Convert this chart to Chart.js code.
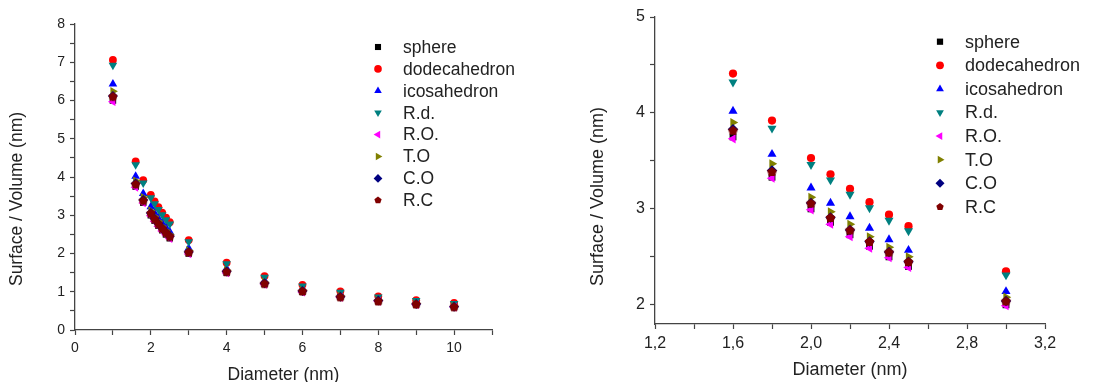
<!DOCTYPE html>
<html><head><meta charset="utf-8">
<script src="https://cdn.jsdelivr.net/npm/chart.js@4/dist/chart.umd.min.js"></script>
<style>
html,body{margin:0;padding:0;background:#fff;}
#wrap{position:relative;width:1118px;height:382px;overflow:hidden;}
#c1{position:absolute;left:0;top:0;}
#c2{position:absolute;left:560px;top:0;}
</style></head><body>
<div id="wrap"><canvas id="c1" width="540" height="382"></canvas><canvas id="c2" width="558" height="382"></canvas></div>
<script>
const diameters = [1, 1.6, 1.8, 2.0, 2.1, 2.2, 2.3, 2.4, 2.5, 3, 4, 5, 6, 7, 8, 9, 10];
const sphere       = [6.00, 3.75, 3.33, 3.00, 2.86, 2.73, 2.61, 2.50, 2.40, 2.00, 1.50, 1.20, 1.00, 0.86, 0.75, 0.67, 0.60];
const dodecahedron = [7.06, 4.41, 3.92, 3.53, 3.36, 3.21, 3.07, 2.94, 2.82, 2.35, 1.76, 1.41, 1.18, 1.01, 0.88, 0.78, 0.71];
const icosahedron  = [6.43, 4.02, 3.57, 3.22, 3.06, 2.92, 2.80, 2.68, 2.57, 2.14, 1.61, 1.29, 1.07, 0.92, 0.80, 0.71, 0.64];
const rd           = [6.92, 4.32, 3.84, 3.46, 3.30, 3.15, 3.01, 2.88, 2.77, 2.31, 1.73, 1.38, 1.15, 0.99, 0.86, 0.77, 0.69];
const ro           = [5.97, 3.73, 3.32, 2.99, 2.84, 2.71, 2.59, 2.49, 2.39, 1.99, 1.49, 1.19, 0.99, 0.85, 0.75, 0.66, 0.60];
const to           = [6.24, 3.90, 3.47, 3.12, 2.97, 2.84, 2.71, 2.60, 2.50, 2.08, 1.56, 1.25, 1.04, 0.89, 0.78, 0.69, 0.62];
const co           = [6.12, 3.83, 3.40, 3.06, 2.91, 2.78, 2.66, 2.55, 2.45, 2.04, 1.53, 1.22, 1.02, 0.87, 0.77, 0.68, 0.61];
const rc           = [6.11, 3.82, 3.39, 3.06, 2.91, 2.78, 2.66, 2.55, 2.45, 2.04, 1.53, 1.22, 1.02, 0.87, 0.76, 0.68, 0.61];
const seriesLabels = ['sphere', 'dodecahedron', 'icosahedron', 'R.d.', 'R.O.', 'T.O', 'C.O', 'R.C'];
const seriesValues = [sphere, dodecahedron, icosahedron, rd, ro, to, co, rc];
const seriesColors = ['#000000', '#ff0000', '#0000ff', '#008080', '#ff00ff', '#808000', '#000080', '#800000'];
const xTitle = 'Diameter (nm)';
const yTitle = 'Surface / Volume (nm)';

Chart.defaults.font.family = '"Liberation Sans", Arial, sans-serif';
Chart.defaults.color = '#222';

function pentagon(r, color) {
  const s = Math.ceil(r * 2 + 2);
  const c = document.createElement('canvas');
  c.width = s; c.height = s;
  const g = c.getContext('2d');
  g.fillStyle = color;
  g.beginPath();
  for (let i = 0; i < 5; i++) {
    const a = -Math.PI / 2 + i * 2 * Math.PI / 5;
    const x = s / 2 + r * Math.cos(a), y = s / 2 + r * Math.sin(a) + 0.5;
    if (i) g.lineTo(x, y); else g.moveTo(x, y);
  }
  g.closePath(); g.fill();
  return c;
}

// marker style per series: [pointStyle, rotation, radius]
function markerStyles(scale) {
  return [
    ['rect', 0, 4.6 * scale],
    ['circle', 0, 3.9 * scale],
    ['triangle', 0, 5.0 * scale],
    ['triangle', 180, 5.0 * scale],
    ['triangle', 270, 5.0 * scale],
    ['triangle', 90, 5.0 * scale],
    ['rectRot', 0, 5.0 * scale],
    [pentagon(4.8 * scale, seriesColors[7]), 0, 4.8 * scale]
  ];
}

function buildDatasets(scale) {
  const ms = markerStyles(scale);
  return seriesLabels.map((lab, i) => ({
    label: lab,
    data: diameters.map((d, k) => ({x: d, y: seriesValues[i][k]})),
    pointStyle: ms[i][0],
    rotation: ms[i][1],
    pointRadius: ms[i][2],
    pointHoverRadius: ms[i][2],
    backgroundColor: seriesColors[i],
    borderColor: seriesColors[i],
    borderWidth: 0,
    showLine: false,
    order: seriesLabels.length - i
  }));
}

const legendPlugin = {
  id: 'inLegend',
  afterDraw(chart, args, o) {
    const ctx = chart.ctx;
    ctx.save();
    ctx.font = o.fontSize + 'px "Liberation Sans", Arial, sans-serif';
    ctx.textBaseline = 'middle';
    ctx.textAlign = 'left';
    chart.data.datasets.forEach((ds, i) => {
      const y = o.y + i * o.spacing;
      const x = o.x;
      const r = o.r;
      ctx.fillStyle = ds.backgroundColor;
      ctx.beginPath();
      if (i === 0) { ctx.rect(x - r * 0.8, y - r * 0.8, r * 1.6, r * 1.6); }
      else if (i === 1) { ctx.arc(x, y, r, 0, Math.PI * 2); }
      else if (i >= 2 && i <= 5) {
        const rot = [0, 180, 270, 90][i - 2] * Math.PI / 180;
        for (let k = 0; k < 3; k++) {
          const a = rot + k * 2 * Math.PI / 3;
          const px = x + Math.sin(a) * r * 1.15, py = y - Math.cos(a) * r * 1.15;
          if (k) ctx.lineTo(px, py); else ctx.moveTo(px, py);
        }
      } else if (i === 6) {
        const d = r * 1.15;
        ctx.moveTo(x, y - d); ctx.lineTo(x + d, y); ctx.lineTo(x, y + d); ctx.lineTo(x - d, y);
      } else {
        for (let k = 0; k < 5; k++) {
          const a = -Math.PI / 2 + k * 2 * Math.PI / 5;
          const px = x + r * Math.cos(a), py = y + r * Math.sin(a);
          if (k) ctx.lineTo(px, py); else ctx.moveTo(px, py);
        }
      }
      ctx.closePath();
      ctx.fill();
      ctx.fillStyle = '#222';
      ctx.fillText(ds.label, o.textX, y + 1);
    });
    ctx.restore();
  }
};

const titlePlugin = {
  id: 'axisTitles',
  afterDraw(chart, args, o) {
    const ctx = chart.ctx;
    const ca = chart.chartArea;
    ctx.save();
    ctx.fillStyle = '#222';
    ctx.font = o.fontSize + 'px "Liberation Sans", Arial, sans-serif';
    ctx.textAlign = 'center';
    ctx.textBaseline = 'middle';
    ctx.fillText(xTitle, (ca.left + ca.right) / 2, o.xY);
    ctx.translate(o.yX, (ca.top + ca.bottom) / 2 + o.yShift);
    ctx.rotate(-Math.PI / 2);
    ctx.fillText(yTitle, 0, 0);
    ctx.restore();
  }
};

function axisCommon(fontSize) {
  return {
    type: 'linear',
    border: {display: true, color: '#444', width: 1.3},
    grid: {display: true, drawOnChartArea: false, drawTicks: true, tickLength: 5, tickColor: '#444', tickWidth: 1.2},
    ticks: {autoSkip: false, maxRotation: 0, font: {size: fontSize}, color: '#222', padding: 5}
  };
}

function makeChart(id, cfg) {
  const xAxis = axisCommon(cfg.tickFont);
  xAxis.min = cfg.xMin; xAxis.max = cfg.xMax;
  xAxis.ticks.stepSize = cfg.xStep;
  xAxis.ticks.callback = cfg.xLabel;
  xAxis.afterFit = s => { s.height = cfg.xAxisH; };
  const yAxis = axisCommon(cfg.tickFont);
  yAxis.min = cfg.yMin; yAxis.max = cfg.yMax;
  yAxis.ticks.stepSize = cfg.yStep;
  yAxis.ticks.includeBounds = false;
  yAxis.ticks.callback = cfg.yLabel;
  yAxis.afterFit = s => { s.width = cfg.yAxisW; };
  return new Chart(document.getElementById(id), {
    type: 'scatter',
    data: {datasets: buildDatasets(cfg.markerScale)},
    options: {
      responsive: false,
      animation: false,
      events: [],
      layout: {padding: {left: 0, top: cfg.padTop, right: cfg.padRight, bottom: 0}},
      scales: {x: xAxis, y: yAxis},
      plugins: {
        legend: {display: false},
        tooltip: {enabled: false},
        inLegend: cfg.legend,
        axisTitles: cfg.titles
      }
    },
    plugins: [legendPlugin, titlePlugin]
  });
}

makeChart('c1', {
  xMin: 0, xMax: 11, xStep: 1,
  xLabel: v => (v % 2 === 0 && v <= 10) ? String(v) : '',
  yMin: 0, yMax: 8, yStep: 0.5,
  yLabel: v => Number.isInteger(v) ? String(v) : '',
  tickFont: 14, xAxisH: 52, yAxisW: 75, padTop: 24, padRight: 48,
  markerScale: 1,
  legend: {x: 378, textX: 403, y: 47, spacing: 21.9, r: 3.8, fontSize: 17.5},
  titles: {fontSize: 17.5, xY: 375, yX: 17, yShift: 22}
});

makeChart('c2', {
  xMin: 1.2, xMax: 3.2, xStep: 0.2,
  xLabel: v => { const k = Math.round(v * 10); return ((k - 12) % 4 === 0) ? (k / 10).toFixed(1).replace('.', ',') : ''; },
  yMin: 1.8, yMax: 5, yStep: 0.5,
  yLabel: v => Number.isInteger(v) ? String(v) : '',
  tickFont: 16, xAxisH: 58, yAxisW: 95, padTop: 17, padRight: 73,
  markerScale: 1.05,
  legend: {x: 380, textX: 405, y: 41.7, spacing: 23.6, r: 3.9, fontSize: 18},
  titles: {fontSize: 18, xY: 370, yX: 38, yShift: 26}
});
</script>
</body></html>
